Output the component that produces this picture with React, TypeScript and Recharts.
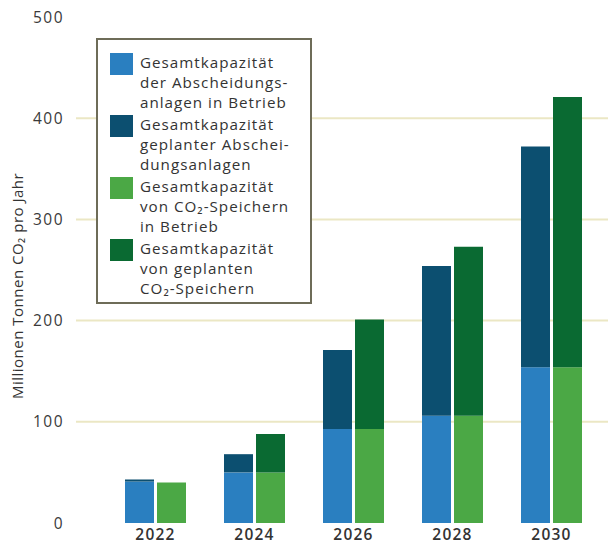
import { BarChart, Bar, XAxis, YAxis, CartesianGrid, Legend } from 'recharts'

const years = ['2022', '2024', '2026', '2028', '2030']
const captureOperating = [41, 50, 93, 106, 154]
const capturePlanned = [2, 18, 78, 148, 218]
const storageOperating = [40, 50, 93, 106, 154]
const storagePlanned = [0, 38, 108, 167, 267]
const yTicks = [0, 100, 200, 300, 400, 500]

const COLORS = {
  capOp: '#2a7fc0',
  capPlan: '#0c4f70',
  stoOp: '#4ba845',
  stoPlan: '#0a6a32',
}

const LEGEND_ITEMS = [
  { color: COLORS.capOp, lines: ['Gesamtkapazität', 'der Abscheidungs-', 'anlagen in Betrieb'] },
  { color: COLORS.capPlan, lines: ['Gesamtkapazität', 'geplanter Abschei-', 'dungsanlagen'] },
  { color: COLORS.stoOp, lines: ['Gesamtkapazität', 'von CO₂-Speichern', 'in Betrieb'] },
  { color: COLORS.stoPlan, lines: ['Gesamtkapazität', 'von geplanten', 'CO₂-Speichern'] },
]

const data = years.map((y, i) => ({
  year: y,
  capOp: captureOperating[i],
  capPlan: capturePlanned[i],
  stoOp: storageOperating[i],
  stoPlan: storagePlanned[i],
}))

const FONT = '"Open Sans", "Noto Sans", sans-serif'

function LegendBox() {
  return (
    <div
      style={{
        border: '2px solid #6e6c58',
        background: '#fff',
        width: 216,
        height: 266,
        boxSizing: 'border-box',
        padding: '12px 0 0 12px',
        fontFamily: FONT,
        fontSize: 15.2,
        lineHeight: '20px',
        letterSpacing: 1,
        color: '#333',
        whiteSpace: 'nowrap',
      }}
    >
      {LEGEND_ITEMS.map((it, i) => (
        <div key={i} style={{ display: 'flex', alignItems: 'flex-start', marginBottom: i < 3 ? 2 : 0 }}>
          <span style={{ width: 23, height: 22, background: it.color, flexShrink: 0, marginTop: 1, marginRight: 7 }} />
          <div>
            {it.lines.map((l, j) => <div key={j}>{l}</div>)}
          </div>
        </div>
      ))}
    </div>
  )
}

function YLabel() {
  const cx = 17
  const cy = 286
  return (
    <text
      x={cx}
      y={cy}
      transform={`rotate(-90, ${cx}, ${cy})`}
      textAnchor="middle"
      dominantBaseline="central"
      fontFamily={FONT}
      fontSize={15}
      letterSpacing={0.5}
      fill="#333"
    >
      Millionen Tonnen CO₂ pro Jahr
    </text>
  )
}

export default function App() {
  return (
    <div style={{ position: 'absolute', left: 0, top: 0, width: 608, height: 544, background: '#fff' }}>
      <BarChart
        width={608}
        height={544}
        data={data}
        margin={{ top: 17, right: 0, bottom: 0, left: 0 }}
        barGap={3}
        barSize={29}
      >
        <CartesianGrid
          vertical={false}
          horizontalValues={[100, 200, 300, 400]}
          stroke="#ebe7c4"
          strokeWidth={2}
        />
        <XAxis
          dataKey="year"
          axisLine={false}
          tickLine={false}
          height={21}
          tickMargin={0}
          padding={{ left: 30, right: 7 }}
          tick={{ fontSize: 15.5, fill: '#333', fontFamily: FONT, fontWeight: 600, letterSpacing: 1.2 } as any}
        />
        <YAxis
          domain={[0, 500]}
          ticks={yTicks}
          width={76}
          axisLine={false}
          tickLine={false}
          tickMargin={6}
          tick={{ fontSize: 15.5, fill: '#3a3a3a', fontFamily: FONT, letterSpacing: 1.5 } as any}
          label={<YLabel />}
        />
        <Legend
          layout="vertical"
          verticalAlign="middle"
          align="center"
          content={() => <LegendBox />}
          wrapperStyle={{ left: 96, top: 38, width: 216 }}
        />
        <Bar dataKey="capOp" stackId="cap" fill={COLORS.capOp} isAnimationActive={false} />
        <Bar dataKey="capPlan" stackId="cap" fill={COLORS.capPlan} isAnimationActive={false} />
        <Bar dataKey="stoOp" stackId="sto" fill={COLORS.stoOp} isAnimationActive={false} />
        <Bar dataKey="stoPlan" stackId="sto" fill={COLORS.stoPlan} isAnimationActive={false} />
      </BarChart>
    </div>
  )
}
